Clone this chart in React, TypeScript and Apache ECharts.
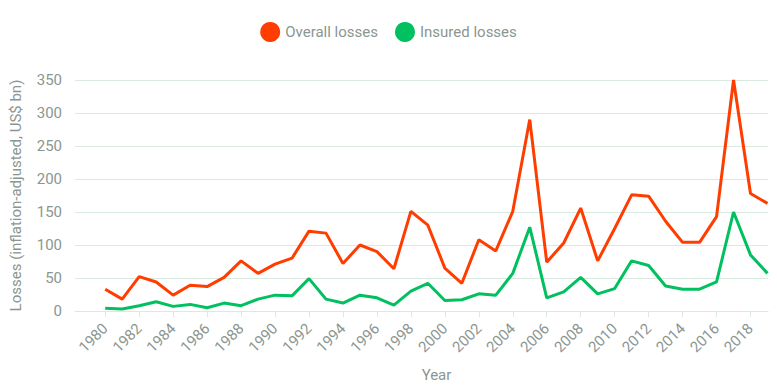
import React, { useEffect, useRef } from "react";
import * as echarts from "echarts";

const years: number[] = [];
for (let y = 1980; y <= 2019; y++) years.push(y);

const yearTicks: number[] = [];
for (let y = 1980; y <= 2018; y += 2) yearTicks.push(y);

const overallLosses = [
  33, 18, 52, 44, 24, 39, 37, 51, 76, 57,
  71, 80, 121, 118, 72, 100, 90, 64, 151, 130,
  65, 42, 108, 91, 151, 290, 74, 103, 156, 76,
  125, 176, 174, 136, 104, 104, 143, 350, 178, 163,
];

const insuredLosses = [
  4, 3, 8, 14, 7, 10, 5, 12, 8, 18,
  24, 23, 49, 18, 12, 24, 20, 9, 30, 42,
  16, 17, 26, 24, 57, 127, 20, 29, 51, 26,
  34, 76, 69, 38, 33, 33, 44, 150, 85, 57,
];

const seriesNames = ["Overall losses", "Insured losses"];
const seriesColors = ["#ff3d00", "#00c05f"];

const textColor = "#8a9691";
const gridColor = "#d9eadf";
const fontFamily = "Roboto, 'Liberation Sans', sans-serif";

export default function App() {
  const ref = useRef<HTMLDivElement>(null);

  useEffect(() => {
    if (!ref.current) return;
    const chart = echarts.init(ref.current, undefined, { renderer: "svg" });
    chart.setOption({
      animation: false,
      textStyle: { fontFamily },
      legend: {
        top: 17,
        left: "center",
        icon: "circle",
        itemWidth: 20,
        itemHeight: 20,
        itemGap: 17,
        textStyle: { color: textColor, fontSize: 15, fontFamily },
        data: seriesNames,
      },
      grid: { left: 71, right: 9, top: 80, bottom: 77 },
      xAxis: {
        type: "value",
        min: 1978.22,
        max: 2019.03,
        name: "Year",
        nameLocation: "middle",
        nameGap: 56,
        nameTextStyle: { color: textColor, fontSize: 15, padding: [0, 0, 0, 30] },
        axisLine: { lineStyle: { color: gridColor, width: 1 } },
        axisTick: { show: true, customValues: yearTicks, length: 6, lineStyle: { color: gridColor } },
        axisLabel: {
          customValues: yearTicks,
          rotate: 45,
          color: textColor,
          fontSize: 15,
          margin: 15,
          formatter: (v: number) => String(v),
        },
        splitLine: { show: false },
      },
      yAxis: {
        type: "value",
        min: 0,
        max: 350,
        interval: 50,
        name: "Losses (inflation-adjusted, US$ bn)",
        nameLocation: "middle",
        nameGap: 52,
        nameTextStyle: { color: textColor, fontSize: 15 },
        axisLine: { show: false },
        axisTick: { show: false },
        axisLabel: { color: textColor, fontSize: 15, margin: 13 },
        splitLine: { lineStyle: { color: gridColor, width: 1 } },
      },
      series: [
        {
          name: seriesNames[0],
          type: "line",
          data: years.map((y, i) => [y, overallLosses[i]]),
          symbol: "none",
          color: seriesColors[0],
          lineStyle: { width: 3, color: seriesColors[0] },
        },
        {
          name: seriesNames[1],
          type: "line",
          data: years.map((y, i) => [y, insuredLosses[i]]),
          symbol: "none",
          color: seriesColors[1],
          lineStyle: { width: 3, color: seriesColors[1] },
        },
      ],
    });
    return () => chart.dispose();
  }, []);

  return (
    <div
      ref={ref}
      style={{ position: "fixed", left: 0, top: 0, width: 777, height: 388, background: "#fff" }}
    />
  );
}
